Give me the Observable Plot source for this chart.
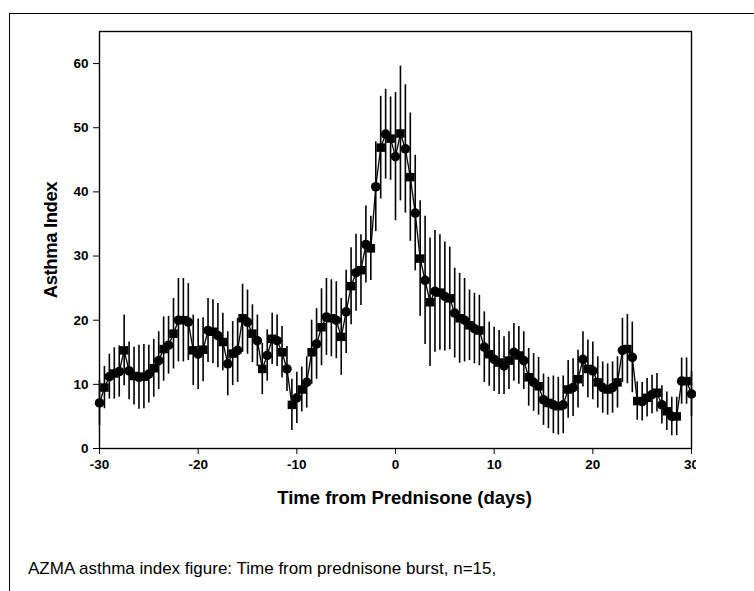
<!DOCTYPE html>
<html>
<head>
<meta charset="utf-8">
<script src="https://cdn.jsdelivr.net/npm/d3@7"></script>
<script src="https://cdn.jsdelivr.net/npm/@observablehq/plot@0.6"></script>
<style>
  html, body { margin: 0; padding: 0; background: #fff; width: 754px; height: 591px; overflow: hidden; position: relative; }
  #outer { position: absolute; left: 9px; top: 13px; width: 900px; height: 800px; border: 1.6px solid #000; box-sizing: border-box; }
  #clip { position: absolute; left: 0; top: 0; width: 696px; height: 560px; overflow: hidden; }
  #clip svg { max-width: none !important; }
  #caption { position: absolute; left: 28px; top: 559px; font-family: "Liberation Sans", Arial, sans-serif; font-size: 17px; color: #000; white-space: nowrap; }
  g[aria-label="y-axis label"] text { font-size: 18.5px; font-weight: bold; letter-spacing: -0.4px; font-family: "Liberation Sans", Arial, sans-serif; }
</style>
</head>
<body>
<div id="outer"></div>
<div id="clip"></div>
<div id="caption">AZMA asthma index figure: Time from prednisone burst, n=15,</div>
<script>
const days = [-30,-29.5,-29,-28.5,-28,-27.5,-27,-26.5,-26,-25.5,-25,-24.5,-24,-23.5,-23,-22.5,-22,-21.5,-21,-20.5,
  -20,-19.5,-19,-18.5,-18,-17.5,-17,-16.5,-16,-15.5,-15,-14.5,-14,-13.5,-13,-12.5,-12,-11.5,-11,-10.5,
  -10,-9.5,-9,-8.5,-8,-7.5,-7,-6.5,-6,-5.5,-5,-4.5,-4,-3.5,-3,-2.5,-2,-1.5,-1,-0.5,
  0,0.5,1,1.5,2,2.5,3,3.5,4,4.5,5,5.5,6,6.5,7,7.5,8,8.5,9,9.5,
  10,10.5,11,11.5,12,12.5,13,13.5,14,14.5,15,15.5,16,16.5,17,17.5,18,18.5,19,19.5,
  20,20.5,21,21.5,22,22.5,23,23.5,24,24.5,25,25.5,26,26.5,27,27.5,28,28.5,29,29.5,30];
const means = [7.1,9.5,11.2,11.7,12.0,15.3,12.1,11.3,11.1,11.2,11.6,12.5,13.7,15.5,16.1,17.9,20.0,20.0,19.7,15.3,
  14.7,15.4,18.4,18.2,17.6,16.6,13.2,14.8,15.3,20.3,19.7,17.9,16.8,12.4,14.5,17.1,16.8,15.0,12.4,6.8,
  7.9,9.2,10.3,15.0,16.3,18.9,20.5,20.3,20.0,17.4,21.3,25.3,27.4,27.8,31.8,31.2,40.8,46.9,49.0,48.3,
  45.5,49.1,46.7,42.3,36.7,29.6,26.2,22.8,24.5,24.3,23.7,23.4,21.1,20.3,20.0,19.2,18.7,18.4,15.8,14.7,
  13.9,13.4,12.9,13.7,15.0,14.5,13.7,11.1,10.3,9.7,7.6,7.1,6.8,6.6,6.8,9.2,9.5,10.8,13.9,12.4,
  12.1,10.3,9.5,9.2,9.5,10.3,15.3,15.5,14.2,7.4,7.3,7.9,8.4,8.7,6.8,5.8,5.0,5.0,10.5,10.5,8.5];
const errs = [3.5,3.3,3.5,4,4,5.5,4.5,4.5,5,5,4.5,4.5,4.5,5,4.5,5.5,6.5,6.5,6,5.5,
  5.5,5,5,5,5,4.5,5,5,5,5.3,5,4.5,4,4,4,4,4,4,3.5,4,
  4,3.5,4,5,5.5,6,6,6,6,6,6.5,6,6,5.5,6,5,7,8,7,6.5,
  10,10.5,10,10,9,9,10,10,9.5,9,8.5,8,7,7,6.5,5.5,5.5,5.5,5.5,5,
  5,5,4.5,4.5,4.5,4.5,4.5,4.5,4.5,4.5,4,4,4.5,4.5,4.5,4.5,4.5,4.5,4.3,4.5,
  4.5,4,4,4,4,4,5,5.4,5.5,3,3,3,3,3,3,3,3,3,3.6,3.6,3.5];
const xTicks = [-30,-20,-10,0,10,20,30];
const yTicks = [0,10,20,30,40,50,60];
const xTitle = "Time from Prednisone (days)";

const data = days.map((d, i) => ({day: d, mean: means[i], lo: means[i] - errs[i], hi: means[i] + errs[i]}));
const whole = data.filter(d => Number.isInteger(d.day));
const half = data.filter(d => !Number.isInteger(d.day));

const chart = Plot.plot({
  width: 754,
  height: 548,
  marginTop: 31,
  marginBottom: 100,
  marginLeft: 99,
  marginRight: 63,
  style: {fontFamily: "Liberation Sans, Arial, sans-serif", fontSize: "13.5px", fontWeight: "bold", color: "#000", background: "transparent", overflow: "visible"},
  x: {domain: [-30, 30], ticks: xTicks, tickFormat: d => String(d), tickSize: 6, tickPadding: 5, label: null},
  y: {domain: [0, 65], ticks: yTicks, tickSize: 6, tickPadding: 5,
      label: "Asthma Index", labelAnchor: "center", labelArrow: "none", labelOffset: 56},
  marks: [
    Plot.frame({stroke: "#000", strokeWidth: 1.4}),
    Plot.ruleX(data, {x: "day", y1: "lo", y2: "hi", stroke: "#000", strokeWidth: 1.6}),
    Plot.line(data, {x: "day", y: "mean", stroke: "#000", strokeWidth: 1.3}),
    Plot.dot(whole, {x: "day", y: "mean", symbol: "circle", r: 4.8, fill: "#000", stroke: null}),
    Plot.dot(half, {x: "day", y: "mean", symbol: "square", r: 4.8, fill: "#000", stroke: null}),
    Plot.text([xTitle], {text: d => d, frameAnchor: "bottom", dx: 9, dy: 55, fontSize: 18.5, fontWeight: "bold",
      fontFamily: "Liberation Sans, Arial, sans-serif", fill: "#000", letterSpacing: "-0.4px"})
  ]
});
document.getElementById("clip").appendChild(chart);
</script>
</body>
</html>
